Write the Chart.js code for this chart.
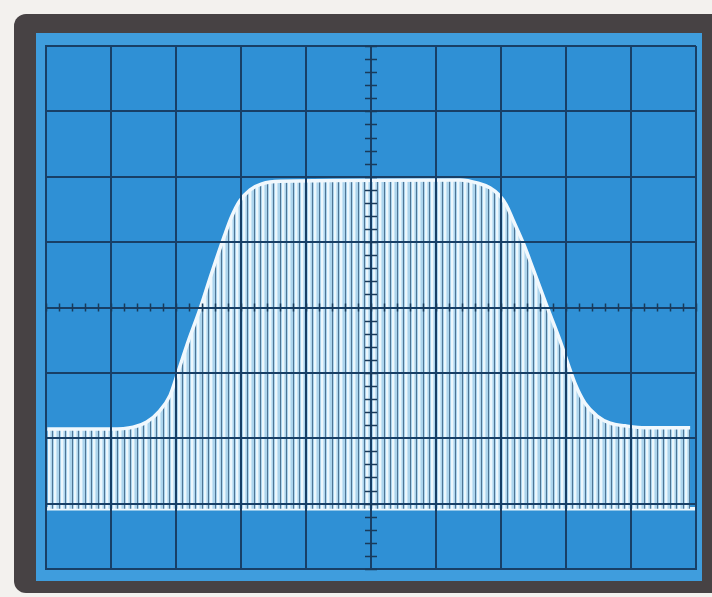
<!DOCTYPE html>
<html>
<head>
<meta charset="utf-8">
<script src="https://cdn.jsdelivr.net/npm/chart.js@4/dist/chart.umd.min.js"></script>
<style>
html,body{margin:0;padding:0;background:#f3f1ee;}
canvas{display:block;}
</style>
</head>
<body>
<canvas id="c" width="712" height="597"></canvas>
<script>
// Graticule: 10 x 8 divisions, centred on 0
const xDivisions = [-5, 5];
const yDivisions = [-4, 4];
const minorPerDivision = 5;

// Envelope of the trace (in divisions)
const envX = [-4.98, -4.00, -3.66, -3.45, -3.25, -3.09, -2.97, -2.82, -2.63, -2.45, -2.25, -2.14, -2.02, -1.86, -1.68, -1.40,
              1.37, 1.65, 1.83, 1.97, 2.08, 2.18, 2.34, 2.49, 2.71, 2.91, 3.03, 3.15, 3.29, 3.48, 3.68, 3.91, 4.22, 4.91];
const envY = [-1.86, -1.86, -1.83, -1.75, -1.58, -1.34, -0.99, -0.54, -0.02, 0.53, 1.11, 1.40, 1.63, 1.80, 1.89, 1.93,
              1.95, 1.90, 1.83, 1.72, 1.57, 1.35, 0.99, 0.60, 0.01, -0.51, -0.86, -1.19, -1.46, -1.66, -1.77, -1.81, -1.84, -1.84];

// Zero-signal baseline trace
const baseX = [-5, 5];
const baseY = [-3.08, -3.08];

const envelope = envX.map((x, i) => ({x: x, y: envY[i]}));
const baseline = baseX.map((x, i) => ({x: x, y: baseY[i]}));

// Striped fill pattern (the individual carrier cycles)
function stripePattern(ctx) {
  const p = document.createElement('canvas');
  p.width = 13; p.height = 8;
  const g = p.getContext('2d');
  g.fillStyle = '#acd4ed'; g.fillRect(0, 0, 13, 8);
  g.fillStyle = '#4f7595'; g.fillRect(0, 0, 1, 8); g.fillRect(7, 0, 1, 8);
  g.fillStyle = '#ecf7fd'; g.fillRect(2, 0, 2, 8); g.fillRect(9, 0, 2, 8);
  g.fillStyle = '#c8e4f5'; g.fillRect(4, 0, 1, 8); g.fillRect(11, 0, 1, 8);
  return ctx.createPattern(p, 'repeat');
}

const ctx = document.getElementById('c').getContext('2d');

const screenPlugin = {
  id: 'screen',
  beforeDraw(chart) {
    const c = chart.ctx, a = chart.chartArea;
    c.save();
    c.fillStyle = '#f3f1ee';
    c.fillRect(0, 0, chart.width, chart.height);
    // bezel
    c.fillStyle = '#474244';
    c.beginPath();
    c.roundRect(14, 14, 730, 579, 12);
    c.fill();
    // screen
    c.fillStyle = '#3f9ddd';
    c.fillRect(36, 33, 666, 548);
    c.fillStyle = '#2f90d5';
    c.fillRect(a.left, a.top, a.right - a.left, a.bottom - a.top);
    c.restore();
  }
};

const minorTicksPlugin = {
  id: 'minorTicks',
  afterDraw(chart) {
    const xs = chart.scales.x, ys = chart.scales.y;
    const c = chart.ctx;
    const x0 = xs.getPixelForValue(0), y0 = ys.getPixelForValue(0);
    c.save();
    c.strokeStyle = '#193a5a';
    c.lineWidth = 1.5;
    c.beginPath();
    for (let i = xDivisions[0] * minorPerDivision; i <= xDivisions[1] * minorPerDivision; i++) {
      const px = Math.round(xs.getPixelForValue(i / minorPerDivision)) + 0.5;
      c.moveTo(px, y0 - 4); c.lineTo(px, y0 + 4);
    }
    for (let i = yDivisions[0] * minorPerDivision; i <= yDivisions[1] * minorPerDivision; i++) {
      const py = Math.round(ys.getPixelForValue(i / minorPerDivision)) + 0.5;
      c.moveTo(x0 - 6, py); c.lineTo(x0 + 6, py);
    }
    c.stroke();
    c.restore();
  }
};

new Chart(ctx, {
  type: 'line',
  data: {
    datasets: [
      {
        data: envelope,
        borderColor: '#f1f8fd',
        borderWidth: 3.5,
        pointRadius: 0,
        cubicInterpolationMode: 'monotone',
        fill: {value: baseY[0]},
        backgroundColor: stripePattern(ctx)
      },
      {
        data: baseline,
        borderColor: '#eef7fc',
        borderWidth: 3.5,
        pointRadius: 0,
        fill: false
      }
    ]
  },
  options: {
    responsive: false,
    animation: false,
    devicePixelRatio: 1,
    layout: {padding: {left: 46, top: 46, right: 16, bottom: 28}},
    plugins: {legend: {display: false}, tooltip: {enabled: false}},
    scales: {
      x: {
        type: 'linear', min: xDivisions[0], max: xDivisions[1],
        ticks: {display: false, stepSize: 1},
        grid: {color: '#183f66', lineWidth: 2, drawTicks: false, z: 1},
        border: {display: true, color: '#183f66', width: 2, z: 1}
      },
      y: {
        type: 'linear', min: yDivisions[0], max: yDivisions[1],
        ticks: {display: false, stepSize: 1},
        grid: {color: '#183f66', lineWidth: 2, drawTicks: false, z: 1},
        border: {display: true, color: '#183f66', width: 2, z: 1}
      }
    }
  },
  plugins: [screenPlugin, minorTicksPlugin]
});
</script>
</body>
</html>
